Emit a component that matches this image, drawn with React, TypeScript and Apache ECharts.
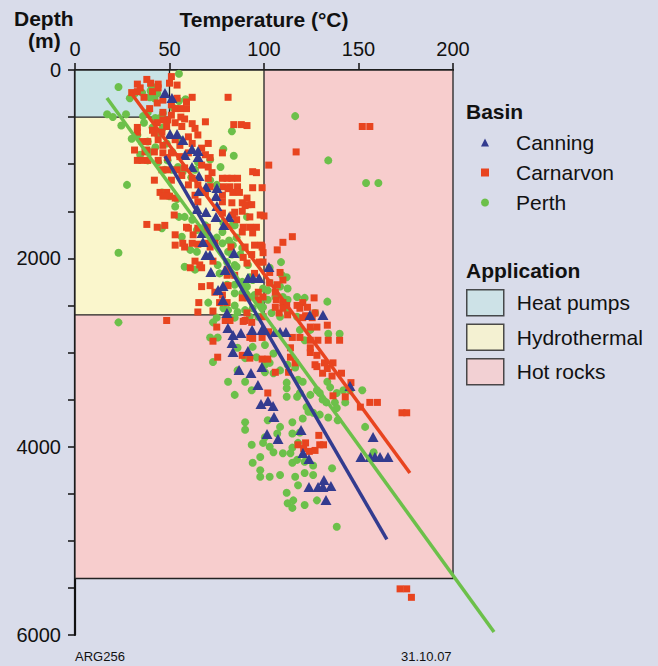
import React, { useEffect, useRef } from "react";
import * as echarts from "echarts";

// Temperature (°C), depth (m)
const canningData: number[][] = [
  [47.6, 245], [51.3, 297], [50.3, 680], [54, 680], [57.1, 743], [61.9, 839], [65.1, 860], [58.2, 903],
  [65.1, 924], [61.9, 1030], [65.6, 1126], [69.3, 1243], [75.1, 1253], [65.6, 1285], [74.6, 1338],
  [75.1, 1444], [69.3, 1508], [74.6, 1561], [81.5, 1561], [78.8, 1646], [64.6, 1476], [67.2, 1731],
  [67.7, 1827], [69.3, 1965], [71.4, 1965], [84.1, 1943], [71.9, 2145], [79.4, 2124], [91.5, 2209],
  [94.2, 2209], [97.4, 2209], [102.6, 2092], [78.3, 2294], [75.7, 2336], [78.3, 2443], [80.4, 2581],
  [93.7, 2761], [98.9, 2761], [105.8, 2782], [108.5, 2782], [111.6, 2782], [124.3, 2602], [131.2, 2602],
  [80.9, 2740], [83.6, 2814], [87.8, 2793], [83.1, 2899], [83.6, 2995], [91.5, 2984], [86.8, 3186],
  [93.1, 3218], [96.8, 3345], [98.9, 3154], [98.4, 3547], [102.1, 3515], [104.8, 3568], [105.3, 3685],
  [101.6, 3865], [107.4, 3919], [119.6, 3823], [120.6, 4068], [123.8, 4131], [131.7, 4354], [123.8, 4429],
  [128.6, 4429], [131.2, 4429], [135.4, 4418], [132.8, 4567], [145.5, 3356], [157.7, 3898], [151.3, 4110],
  [156.1, 4110], [158.7, 4110], [161.4, 4110], [165.6, 4110],
];

const carnarvonData: number[][] = [
  [38, 100], [33, 150], [40, 140], [44, 150], [50, 140], [51, 70], [54, 160], [30, 240], [33, 230],
  [36.5, 290], [41, 230], [44, 190], [46.5, 320], [43.5, 350], [39.5, 410], [51, 370], [53, 410],
  [56, 410], [59, 410], [62, 290], [81, 290], [56, 500], [58, 520], [46.5, 450], [49, 530], [51, 480],
  [46.5, 530], [43.5, 560], [41, 640], [42, 670], [46, 660], [48.5, 600], [53, 560], [56.5, 600],
  [62, 570], [63.5, 620], [69, 550], [34.5, 190], [54, 300], [59, 340], [84, 580], [88, 580], [91, 590],
  [33, 610], [33, 660],
  [65, 690], [60, 710], [53, 740], [44, 740], [38.5, 760], [35.5, 760], [46.5, 800], [55.5, 800],
  [62, 780], [70.5, 780], [67, 830], [37, 870], [42, 870], [46.5, 880], [51, 880], [33, 960], [35.5, 960],
  [38.5, 960], [44, 960], [49, 930], [55.5, 920], [60, 880], [69, 900], [71.5, 930], [78, 880],
  [67, 1010], [70.5, 1030], [58, 1040], [54, 1060], [49, 1060], [46, 1060], [56.5, 1120], [62, 1150],
  [70.5, 1150], [72.5, 1090], [78, 1150], [80.5, 1150], [83, 1150], [86, 1150], [94, 1080], [96, 1090],
  [42, 1170], [51, 1170], [60, 1220], [65, 1220], [78.5, 1240], [82, 1240], [86, 1240], [94, 1250],
  [99, 1250], [102.5, 1010], [45, 1300], [48.5, 1300], [46.5, 1340], [50, 1340], [31.5, 850], [38, 850],
  [53, 1360], [63.5, 1330], [69, 1300], [71.5, 1240], [81, 1260], [83.5, 1300], [87, 1300], [78, 1400],
  [83, 1410], [88.5, 1410], [91, 1360], [91.5, 1430], [84.5, 1510], [88.5, 1500], [92.5, 1560],
  [98, 1540], [100, 1550], [78, 1520], [52.5, 1540], [38, 1640], [43.5, 1670], [47.5, 1650], [60, 1680],
  [65, 1680], [70, 1670], [53, 1750], [57, 1840], [62, 1840], [53, 1860], [58, 1880], [65, 1850],
  [71.5, 1880], [82.5, 1880], [88.5, 1720], [90, 1880], [92.5, 1670], [96, 1670], [99, 1880],
  [93.5, 1960], [91, 2050], [97.5, 2040], [83.5, 1540], [89, 1670], [94, 1730], [65, 1400], [59, 1670],
  [62.5, 1750], [69, 1730], [70.5, 1840], [74, 1840], [85.5, 1590], [78, 1330], [90, 1440], [93.5, 1430],
  [95, 1860], [98.5, 1860], [107, 1910], [110, 1830], [115, 1770], [99.5, 1940], [117, 870],
  [63.5, 2030], [66, 2070], [73, 2030], [61, 2100], [67, 2100], [80.5, 2120], [89, 1990], [99.5, 2040],
  [103, 2150], [108.5, 2150], [110, 2230], [107, 2280], [106, 2360], [110, 2470], [112, 2500],
  [117.5, 2500], [120.5, 2470], [126.5, 2420], [123, 2520], [122, 2610], [127, 2580], [125.5, 2630],
  [95, 2160], [103, 2260], [97, 2360], [99.5, 2410], [106.5, 2440], [119, 2530], [112.5, 2600],
  [120.5, 2630], [108, 2580], [67, 2300], [71.5, 2290], [74, 2360], [78, 2390], [81, 2290], [80.5, 2470],
  [76.5, 2470], [88.5, 2420], [91.5, 2420], [97, 2440], [65.5, 2470], [65, 2570], [73, 2560],
  [79.5, 2660], [82, 2660], [48.5, 2660], [90, 2660], [93.5, 2680], [80.5, 2180], [84.5, 2180],
  [110, 2530], [106, 2520],
  [124.5, 2730], [128, 2730], [133.5, 2710], [124.5, 2870], [128.5, 2870], [134, 2870], [140, 2870],
  [124.5, 2950], [128, 3030], [127, 3130], [132, 3110], [136.5, 3110], [131, 3220], [136, 3250],
  [141, 3220], [146, 3320], [143, 3470], [156, 3530], [160, 3530], [151, 3580], [173, 3640],
  [175.5, 3640], [75, 2730], [91, 2580], [99.5, 2620], [92.5, 2840], [99, 2840], [102.5, 2780],
  [75.5, 3050], [88.5, 3030], [92.5, 3060], [99, 3070], [102, 3070], [106, 3210], [114, 2950],
  [114, 3050], [116.5, 3110], [102, 3430], [115, 2840], [119, 2840], [113, 3210], [94, 2850], [73, 2880],
  [89, 2670], [124.5, 3000], [133.5, 3170], [128, 3150], [136.5, 3460],
  [122, 3960], [118, 3980], [121, 4020], [124, 4050], [127, 4040], [129.5, 3980], [131.5, 3980],
  [129, 3880], [172, 5510], [175.5, 5510], [178, 5600], [152, 600], [156, 600],
];

const perthData: number[][] = [
  [55, 40], [23, 180], [40.5, 170], [17, 470], [20, 500], [27, 470], [24.5, 590], [36, 490], [58.5, 310],
  [55, 330], [116.5, 490], [42, 300], [40, 220], [52, 400], [30, 730], [38.5, 760], [42.5, 510],
  [41, 610], [44, 690], [46.5, 460], [39.5, 290], [31.5, 250], [35.5, 240], [29, 300], [43.5, 250],
  [36.5, 560], [38.5, 450], [45, 510], [46.5, 610], [33, 690], [42.5, 820], [83, 650], [78.5, 840],
  [84, 910], [77, 1030], [39.5, 870], [34.5, 900], [44, 980], [49, 960], [27.5, 1220], [48.5, 780],
  [51.5, 870], [55.5, 740], [47.5, 1060], [51.5, 1060], [54.5, 1030], [57, 1080], [61.5, 1140],
  [63.5, 1060], [65, 980], [71.5, 1170], [75, 1220], [71.5, 950], [38.5, 960],
  [46, 1300], [50, 1340], [54, 1370], [53, 1450], [55, 1560], [58, 1560], [62, 1590], [46, 1680],
  [56.5, 1770], [64.5, 1700], [69, 1650], [61, 1910], [64.5, 1930], [58, 2090], [63.5, 2120], [78, 1720],
  [75, 1780], [78, 1840], [81, 1930], [83, 1960], [75.5, 2070], [76.5, 2160], [82, 2160], [84.5, 2070],
  [87.5, 1960], [88.5, 1890], [83.5, 1640], [81.5, 1810], [23, 1940], [83.5, 1860], [78.5, 1620],
  [84.5, 1650], [91, 1560], [85.5, 1780], [80.5, 2040], [85.5, 2090], [92.5, 2200],
  [80.5, 2280], [84.5, 2280], [88.5, 2250], [84.5, 2370], [88.5, 2370], [91, 2300], [91.5, 2410],
  [95, 2390], [70.5, 2470], [78.5, 2530], [84.5, 2500], [86, 2570], [90, 2550], [94, 2530], [98, 2470],
  [92.5, 2620], [97, 2620], [91.5, 2070], [23, 2680], [84.5, 2630], [94, 2230], [99.5, 2320],
  [103, 2260], [109, 2040], [109.5, 2180], [112, 2200], [108.5, 2300], [110, 2410], [102, 2440],
  [117.5, 2410], [121.5, 2420], [127, 2580], [133.5, 2460], [99.5, 2520], [104, 2580], [108.5, 2620],
  [112.5, 2570], [75, 2630], [81, 2550], [112.5, 2320], [103, 2100], [102, 2340], [106, 2410],
  [112.5, 2440], [117.5, 2620], [119, 2760], [121.5, 2870], [124.5, 2760], [134, 2800], [140, 2800],
  [75.5, 2840], [73, 3100], [81, 3310], [84.5, 3450], [90, 3310], [90, 3060], [86, 2950], [94, 2940],
  [96, 3050], [103, 3110], [100.5, 3210], [108.5, 3190], [112.5, 3130], [116.5, 3160], [118, 3290],
  [112, 3380], [105, 3220], [112, 3470], [117.5, 3470], [122.5, 3580], [119, 3430], [124.5, 3450],
  [129.5, 3430], [133.5, 3310], [138.5, 3430], [143, 3530], [145.5, 3400], [152, 3400], [73, 2680],
  [71.5, 2840], [86, 3190], [93.5, 3400], [100.5, 3130], [120.5, 3310], [131, 3500], [100.5, 2920],
  [105, 3010], [112, 3320], [128, 3400], [135, 3370], [142, 3400], [137.5, 3530], [133, 3530],
  [139, 3720], [134, 3690], [129.5, 3660], [138.5, 3590], [123.5, 3630], [153.5, 3790], [90, 3740],
  [90, 3820], [102, 3720], [108.5, 3790], [107, 3860], [93.5, 3980], [99.5, 3960], [103, 4000],
  [94, 4170], [98, 4110], [98, 4250], [98, 4320], [103, 4320], [108.5, 4300], [110, 4070], [115, 4170],
  [116.5, 4320], [118, 4410], [121.5, 4280], [126, 4300], [126, 4200], [112, 4490], [112.5, 4600],
  [115.5, 4570], [121.5, 4620], [128, 4570], [115, 4650], [136, 4230], [138.5, 4850], [118, 3960],
  [114, 4070], [119, 3850], [126, 3640], [115, 3740], [120.5, 3700], [115, 3860], [115, 4010],
  [117.5, 4140], [121.5, 4160], [105, 4060], [100.5, 3900], [158, 4060],
  [134, 960], [154, 1200], [160.5, 1200],
];

// Trend lines (end points, temperature °C / depth m)
const canningFit: number[][] = [[47.6, 915], [165, 4985]];
const carnarvonFit: number[][] = [[29.3, 234], [177.2, 4280]];
const perthFit: number[][] = [[16.9, 297], [221.7, 5968]];

// Application zones: [maxTemp, maxDepth]
const heatPumps = [50, 500];
const hydrothermal = [100, 2600];
const hotRocks = [200, 5400];

const xTicks = { min: 0, max: 200, interval: 50 };
const xOverflowMax = 240; // hidden axis letting the Perth trend run past 200 °C
const yTicks = { min: 0, max: 6000, interval: 500, labelEvery: 2000 };

const basinNames = ["Canning", "Carnarvon", "Perth"];
const appNames = ["Heat pumps", "Hydrothermal", "Hot rocks"];

const BG = "#d9dcea";
const FONT = "'Liberation Sans', Arial, Helvetica, sans-serif";
const C_CAN = "#333b8f";
const C_CAR = "#e8441f";
const C_PER = "#6cc04a";
const C_HP = "#c9e3e6";
const C_HY = "#faf6cc";
const C_HR = "#f7cdcd";

const PLOT_LEFT = 75;
const PLOT_TOP = 70;
const PLOT_W = 378;
const PLOT_H = 565;

function zone(name: string, ext: number[], color: string) {
  return {
    name,
    type: "scatter",
    data: [],
    itemStyle: { color, borderColor: "#222", borderWidth: 1.5 },
    markArea: {
      silent: true,
      label: { show: false },
      itemStyle: { color, borderColor: "#222", borderWidth: 1.3 },
      data: [[{ coord: [0, 0] }, { coord: [ext[0], ext[1]] }]],
    },
  };
}

function trend(name: string, data: number[][], color: string) {
  return {
    name,
    type: "line",
    xAxisIndex: 1,
    yAxisIndex: 1,
    symbol: "none",
    silent: true,
    lineStyle: { color, width: 3.5 },
    data,
  };
}

export default function App() {
  const ref = useRef<HTMLDivElement>(null);
  useEffect(() => {
    if (!ref.current) return;
    const chart = echarts.init(ref.current, null, { renderer: "svg" });
    const option: any = {
      animation: false,
      backgroundColor: BG,
      textStyle: { fontFamily: FONT },
      grid: [
        { left: PLOT_LEFT, top: PLOT_TOP, width: PLOT_W, height: PLOT_H },
        {
          left: PLOT_LEFT,
          top: PLOT_TOP,
          width: (PLOT_W * xOverflowMax) / xTicks.max,
          height: PLOT_H,
        },
      ],
      xAxis: [
        {
          type: "value",
          gridIndex: 0,
          position: "top",
          min: xTicks.min,
          max: xTicks.max,
          interval: xTicks.interval,
          name: "Temperature (°C)",
          nameLocation: "middle",
          nameGap: 40,
          nameTextStyle: { fontSize: 21, fontWeight: "bold", color: "#111", fontFamily: FONT },
          axisLine: { lineStyle: { color: "#111", width: 2.2 } },
          axisTick: { length: 7, lineStyle: { color: "#111", width: 1.5 } },
          axisLabel: { fontSize: 20, color: "#111", margin: 11, fontFamily: FONT },
          splitLine: { show: false },
        },
        { type: "value", gridIndex: 1, min: 0, max: xOverflowMax, show: false, splitLine: { show: false } },
      ],
      yAxis: [
        {
          type: "value",
          gridIndex: 0,
          inverse: true,
          min: yTicks.min,
          max: yTicks.max,
          interval: yTicks.interval,
          axisLine: { lineStyle: { color: "#111", width: 2.2 } },
          axisTick: { length: 7, lineStyle: { color: "#111", width: 1.5 } },
          axisLabel: {
            fontSize: 20,
            color: "#111",
            margin: 14,
            fontFamily: FONT,
            formatter: (v: number) => (v % yTicks.labelEvery === 0 ? String(v) : ""),
          },
          splitLine: { show: false },
        },
        {
          type: "value",
          gridIndex: 1,
          inverse: true,
          min: yTicks.min,
          max: yTicks.max,
          show: false,
          splitLine: { show: false },
        },
      ],
      legend: [
        {
          orient: "vertical",
          left: 476,
          top: 127,
          itemWidth: 8,
          itemHeight: 8,
          itemGap: 9,
          selectedMode: false,
          textStyle: { fontSize: 21, color: "#111", fontFamily: FONT, padding: [0, 0, 0, 22] },
          data: [
            { name: basinNames[0], icon: "triangle" },
            { name: basinNames[1], icon: "rect" },
            { name: basinNames[2], icon: "circle" },
          ],
        },
        {
          orient: "vertical",
          left: 461,
          top: 284,
          itemWidth: 37,
          itemHeight: 26,
          itemGap: 7,
          selectedMode: false,
          textStyle: { fontSize: 21, color: "#111", fontFamily: FONT, padding: [0, 0, 0, 8] },
          data: [
            { name: appNames[0], icon: "rect", itemStyle: { color: C_HP, borderColor: "#222", borderWidth: 1.5 } },
            { name: appNames[1], icon: "rect", itemStyle: { color: C_HY, borderColor: "#222", borderWidth: 1.5 } },
            { name: appNames[2], icon: "rect", itemStyle: { color: C_HR, borderColor: "#222", borderWidth: 1.5 } },
          ],
        },
      ],
      graphic: [
        { type: "text", left: 14, top: 8, style: { text: "Depth", fontSize: 21, fontWeight: "bold", fill: "#111", fontFamily: FONT } },
        { type: "text", left: 28, top: 30, style: { text: "(m)", fontSize: 21, fontWeight: "bold", fill: "#111", fontFamily: FONT } },
        { type: "text", left: 466, top: 101, style: { text: "Basin", fontSize: 21, fontWeight: "bold", fill: "#111", fontFamily: FONT } },
        { type: "text", left: 466, top: 260, style: { text: "Application", fontSize: 21, fontWeight: "bold", fill: "#111", fontFamily: FONT } },
        { type: "text", left: 75, top: 650, style: { text: "ARG256", fontSize: 13, fill: "#111", fontFamily: FONT } },
        { type: "text", left: 401, top: 650, style: { text: "31.10.07", fontSize: 13, fill: "#111", fontFamily: FONT } },
      ],
      series: [
        zone(appNames[2], hotRocks, C_HR),
        zone(appNames[1], hydrothermal, C_HY),
        zone(appNames[0], heatPumps, C_HP),
        {
          name: basinNames[2],
          type: "scatter",
          symbol: "circle",
          symbolSize: 8,
          itemStyle: { color: C_PER, opacity: 1 },
          data: perthData,
        },
        {
          name: basinNames[1],
          type: "scatter",
          symbol: "rect",
          symbolSize: 7,
          itemStyle: { color: C_CAR, opacity: 1 },
          data: carnarvonData,
        },
        {
          name: basinNames[0],
          type: "scatter",
          symbol: "triangle",
          symbolSize: [11, 10],
          itemStyle: { color: C_CAN, opacity: 1 },
          data: canningData,
        },
        trend("Perth trend", perthFit, C_PER),
        trend("Carnarvon trend", carnarvonFit, C_CAR),
        trend("Canning trend", canningFit, C_CAN),
      ],
    };
    chart.setOption(option);
    return () => chart.dispose();
  }, []);
  return (
    <div
      ref={ref}
      style={{ position: "absolute", left: 0, top: 0, width: 658, height: 666 }}
    />
  );
}
